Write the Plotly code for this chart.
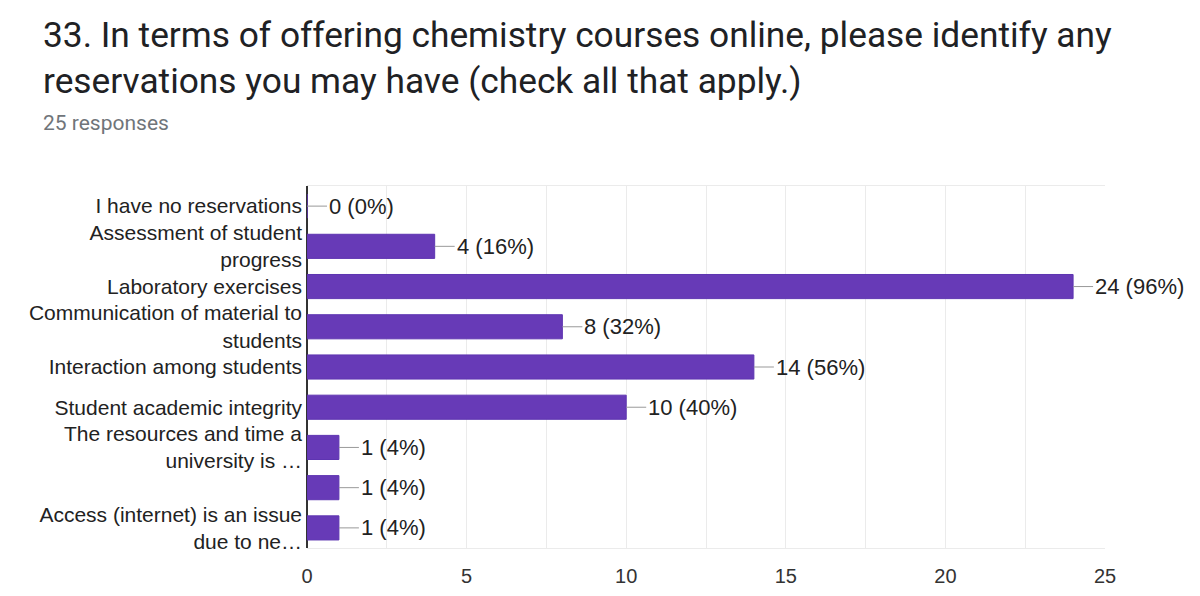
import plotly.graph_objects as go

categories = [
    "I have no reservations",
    "Assessment of student<br>progress",
    "Laboratory exercises",
    "Communication of material to<br>students",
    "Interaction among students",
    "Student academic integrity",
    "The resources and time a<br>university is …",
    "",
    "Access (internet) is an issue<br>due to ne…",
]
counts = [0, 4, 24, 8, 14, 10, 1, 1, 1]
percents = [0, 16, 96, 32, 56, 40, 4, 4, 4]
total_responses = 25
title_lines = [
    "33. In terms of offering chemistry courses online, please identify any",
    "reservations you may have (check all that apply.)",
]

W, H = 1200, 596
L, R, T, B = 307, 95, 186, 48
pw = W - L - R
ph = H - T - B

ypos = list(range(len(categories)))

fig = go.Figure()
fig.add_trace(go.Bar(
    x=counts, y=ypos, orientation="h",
    marker=dict(color="#673ab7", line=dict(color="#5e35b1", width=1)),
    hoverinfo="skip",
))

for c, p, yv in zip(counts, percents, ypos):
    fig.add_annotation(
        x=c, y=yv, xref="x", yref="y",
        text=f"{c} ({p}%)",
        showarrow=True, arrowhead=0, arrowwidth=1, arrowcolor="#999999",
        ax=20, ay=0, xanchor="left", yanchor="middle",
        standoff=0, startstandoff=0,
        font=dict(family="Liberation Sans, Arial", size=22, color="#222222"),
    )

fig.add_annotation(
    x=(41 - L) / pw, y=1 + (T - 12) / ph, xref="paper", yref="paper",
    xanchor="left", yanchor="top", align="left", showarrow=False,
    text="<br>".join(title_lines),
    font=dict(family="Roboto", size=35.3, color="#202124"),
)
fig.add_annotation(
    x=(41 - L) / pw, y=1 + (T - 109) / ph, xref="paper", yref="paper",
    xanchor="left", yanchor="top", align="left", showarrow=False,
    text=f"{total_responses} responses",
    font=dict(family="Roboto", size=21, color="#70757a"),
)

fig.update_layout(
    width=W, height=H,
    margin=dict(l=L, r=R, t=T, b=B),
    paper_bgcolor="white", plot_bgcolor="white",
    showlegend=False,
    bargap=0.4,
    xaxis=dict(
        range=[0, 25], tickvals=[0, 5, 10, 15, 20, 25],
        showgrid=True, gridcolor="#ebebeb", gridwidth=1,
        minor=dict(dtick=2.5, tick0=0, showgrid=True, gridcolor="#ebebeb"),
        zeroline=True, zerolinecolor="#333333", zerolinewidth=1.5,
        showline=True, mirror=True, linecolor="#ebebeb", linewidth=1,
        ticks="", tickfont=dict(family="Liberation Sans, Arial", size=20, color="#333333"),
        ticklabelstandoff=10, automargin=False,
        fixedrange=True,
    ),
    yaxis=dict(
        range=[len(categories) - 0.5, -0.5],
        tickvals=ypos, ticktext=categories,
        showgrid=False, zeroline=False, showline=False,
        ticks="", ticklabelstandoff=4, automargin=False,
        tickfont=dict(family="Liberation Sans, Arial", size=21, color="#222222"),
        fixedrange=True,
    ),
)

fig.write_html(
    "out.html",
    config={"displayModeBar": False},
    post_script="document.body.style.margin='0';document.body.style.overflow='hidden';",
)
